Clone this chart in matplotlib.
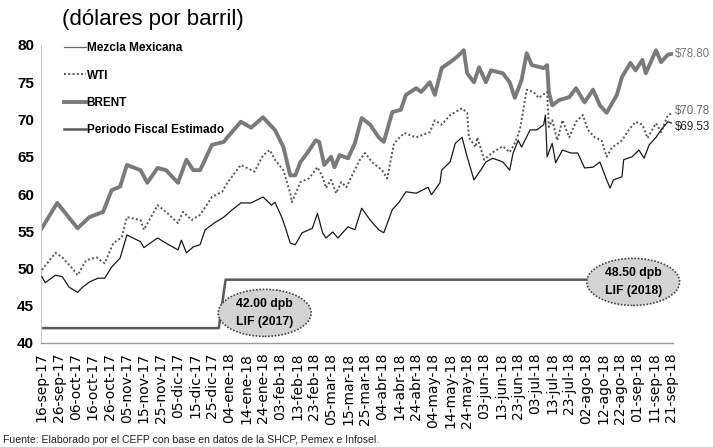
import matplotlib
matplotlib.use("Agg")
import matplotlib.pyplot as plt
from matplotlib.patches import Ellipse
import pandas as pd

# ---------------- data ----------------
brent_dates = ["2017-09-16","2017-09-25","2017-10-07","2017-10-14","2017-10-22","2017-10-27","2017-11-01","2017-11-05",
    "2017-11-13","2017-11-17","2017-11-23","2017-11-28","2017-12-05","2017-12-10","2017-12-14","2017-12-18","2017-12-25",
    "2018-01-01","2018-01-03","2018-01-11","2018-01-17","2018-01-24","2018-01-31","2018-02-05","2018-02-09","2018-02-12",
    "2018-02-15","2018-02-19","2018-02-24","2018-02-26","2018-03-01","2018-03-05","2018-03-07","2018-03-10","2018-03-15",
    "2018-03-19","2018-03-23","2018-03-28","2018-04-02","2018-04-05","2018-04-10","2018-04-15","2018-04-18","2018-04-24",
    "2018-04-27","2018-05-02","2018-05-05","2018-05-09","2018-05-14","2018-05-18","2018-05-22","2018-05-24","2018-05-28",
    "2018-05-31","2018-06-04","2018-06-07","2018-06-14","2018-06-18","2018-06-21","2018-06-25","2018-06-28","2018-07-01",
    "2018-07-08","2018-07-10","2018-07-11","2018-07-13","2018-07-17","2018-07-23","2018-07-27","2018-08-01","2018-08-06",
    "2018-08-10","2018-08-14","2018-08-20","2018-08-23","2018-08-28","2018-08-31","2018-09-04","2018-09-06","2018-09-12",
    "2018-09-15","2018-09-19","2018-09-21"]
brent_values = [55.4,58.8,55.4,56.9,57.6,60.5,61.0,63.9,63.2,61.5,63.5,63.2,61.5,64.6,63.2,63.2,66.6,
    67.0,67.6,69.7,68.9,70.3,68.6,66.3,62.5,62.5,64.3,65.5,67.2,67.0,63.9,65.0,63.6,65.2,64.8,
    66.8,70.2,69.3,67.6,67.0,71.0,71.3,73.3,74.2,73.7,75.0,73.3,76.9,77.7,78.4,79.3,76.2,75.0,
    77.0,75.0,76.6,76.2,75.0,72.9,75.3,78.9,77.3,76.9,77.3,73.7,71.9,72.6,73.0,74.2,72.3,74.0,
    71.9,70.9,73.3,75.7,77.6,76.6,78.0,76.2,79.3,77.7,78.7,78.8]

wti_dates = ["2017-09-16","2017-09-24","2017-09-28","2017-10-04","2017-10-07","2017-10-12","2017-10-18","2017-10-23",
    "2017-10-28","2017-11-02","2017-11-05","2017-11-13","2017-11-15","2017-11-23","2017-11-28","2017-12-05","2017-12-08",
    "2017-12-13","2017-12-18","2017-12-25","2017-12-31","2018-01-03","2018-01-11","2018-01-19","2018-01-24","2018-01-28",
    "2018-01-31","2018-02-05","2018-02-09","2018-02-10","2018-02-15","2018-02-20","2018-02-25","2018-02-28","2018-03-02",
    "2018-03-05","2018-03-08","2018-03-11","2018-03-14","2018-03-18","2018-03-22","2018-03-25","2018-03-29","2018-04-04",
    "2018-04-07","2018-04-11","2018-04-17","2018-04-24","2018-05-02","2018-05-05","2018-05-09","2018-05-14","2018-05-21",
    "2018-05-24","2018-05-25","2018-05-29","2018-05-30","2018-06-03","2018-06-08","2018-06-14","2018-06-18","2018-06-21",
    "2018-06-24","2018-06-28","2018-07-02","2018-07-05","2018-07-10","2018-07-11","2018-07-13","2018-07-16","2018-07-19",
    "2018-07-23","2018-07-27","2018-07-31","2018-08-03","2018-08-07","2018-08-11","2018-08-14","2018-08-17","2018-08-23",
    "2018-08-27","2018-08-31","2018-09-04","2018-09-07","2018-09-12","2018-09-15","2018-09-19","2018-09-21"]
wti_values = [49.8,52.1,51.5,50.0,49.1,51.1,51.5,50.7,53.4,54.2,56.9,56.5,55.2,58.5,57.6,56.1,57.6,
    56.5,57.2,59.6,60.3,61.5,63.9,63.0,65.2,65.9,64.6,63.2,60.1,58.9,61.6,62.1,63.6,62.3,60.8,
    61.9,60.1,61.6,60.9,62.8,64.6,65.5,64.3,63.2,62.1,66.8,68.2,67.6,68.3,69.9,69.3,70.6,71.5,
    70.9,67.6,66.3,67.6,64.6,65.6,66.4,65.6,66.8,68.6,74.0,73.7,72.9,73.7,69.0,69.9,67.2,69.9,
    67.6,69.7,70.6,68.6,67.6,67.2,65.0,66.2,67.2,68.6,69.7,69.3,67.5,69.5,68.3,70.6,70.78]

mezcla_dates = ["2017-09-16","2017-09-18","2017-09-24","2017-09-28","2017-10-02","2017-10-07","2017-10-10","2017-10-14",
    "2017-10-19","2017-10-23","2017-10-27","2017-11-01","2017-11-05","2017-11-13","2017-11-15","2017-11-23","2017-11-28",
    "2017-12-05","2017-12-07","2017-12-10","2017-12-14","2017-12-18","2017-12-21","2017-12-27","2018-01-01","2018-01-06",
    "2018-01-11","2018-01-17","2018-01-24","2018-01-29","2018-01-31","2018-02-04","2018-02-06","2018-02-09","2018-02-12",
    "2018-02-16","2018-02-22","2018-02-25","2018-02-28","2018-03-02","2018-03-06","2018-03-09","2018-03-15","2018-03-19",
    "2018-03-23","2018-03-28","2018-04-02","2018-04-05","2018-04-10","2018-04-14","2018-04-18","2018-04-24","2018-05-01",
    "2018-05-03","2018-05-08","2018-05-09","2018-05-14","2018-05-17","2018-05-21","2018-05-24","2018-05-28","2018-06-01",
    "2018-06-04","2018-06-08","2018-06-14","2018-06-18","2018-06-20","2018-06-23","2018-06-25","2018-06-30","2018-07-04",
    "2018-07-08","2018-07-09","2018-07-10","2018-07-13","2018-07-15","2018-07-19","2018-07-24","2018-07-28","2018-08-01",
    "2018-08-06","2018-08-10","2018-08-14","2018-08-16","2018-08-18","2018-08-23","2018-08-24","2018-08-29","2018-09-02",
    "2018-09-05","2018-09-08","2018-09-12","2018-09-15","2018-09-19","2018-09-21"]
mezcla_values = [48.9,48.1,49.1,48.9,47.5,46.8,47.5,48.2,48.7,48.7,50.2,51.4,54.5,53.6,52.8,54.1,53.4,
    52.5,53.8,52.1,52.9,53.2,55.2,56.2,56.9,57.9,58.8,58.8,59.6,58.5,58.9,56.9,55.6,53.4,53.2,
    54.8,55.4,57.4,54.8,54.1,54.9,54.1,55.6,55.2,58.1,56.5,55.2,54.8,57.9,58.9,60.3,60.1,60.9,
    59.9,61.5,63.2,64.3,66.8,67.6,65.0,61.9,63.2,64.3,64.8,64.3,63.2,65.5,67.2,66.3,68.6,68.6,
    69.3,70.6,65.0,66.8,64.2,65.9,65.5,65.5,63.5,63.6,64.3,61.9,60.8,61.9,62.3,64.6,65.0,65.9,
    64.8,66.6,67.6,68.6,69.7,69.53]

fiscal_dates = ["2017-09-16","2017-12-29","2018-01-02","2018-09-21"]
fiscal_values = [42.0, 42.0, 48.5, 48.5]

series_names = ["Mezcla Mexicana", "WTI", "BRENT", "Periodo Fiscal Estimado"]
end_labels = ["$78.80", "$70.78", "$69.53"]
box_labels = ["42.00 dpb\nLIF (2017)", "48.50 dpb\nLIF (2018)"]
title = "(dólares por barril)"
source = "Fuente: Elaborado por el CEFP con base en datos de la SHCP, Pemex e Infosel."
meses = ["ene","feb","mar","abr","may","jun","jul","ago","sep","oct","nov","dic"]
yticks = [40, 45, 50, 55, 60, 65, 70, 75, 80]

# ---------------- plot ----------------
SANS = ["Liberation Sans", "DejaVu Sans"]

fig = plt.figure(figsize=(7.13, 4.47), dpi=100)
ax = fig.add_axes([41/713, (447-343)/447, 632/713, 298/447])

bd = pd.to_datetime(brent_dates)
wd = pd.to_datetime(wti_dates)
md = pd.to_datetime(mezcla_dates)
fd = pd.to_datetime(fiscal_dates)

l_mez, = ax.plot(md, mezcla_values, color="#1a1a1a", lw=0.9, zorder=4)
l_wti, = ax.plot(wd, wti_values, color="#555555", lw=1.4, ls=(0, (1, 1.2)), zorder=3)
l_bre, = ax.plot(bd, brent_values, color="#7a7a7a", lw=2.8, zorder=2)
l_fis, = ax.plot(fd, fiscal_values, color="#5a5a5a", lw=1.8, zorder=2)

ax.set_ylim(40, 80)
ax.set_xlim(pd.Timestamp("2017-09-15 12:00"), pd.Timestamp("2018-09-22"))
ax.set_yticks(yticks)
ax.set_yticklabels([str(v) for v in yticks], fontfamily=SANS, fontweight="bold", fontsize=11)

ticks = pd.date_range("2017-09-16", "2018-09-21", freq="10D")
ax.set_xticks(ticks)
ax.set_xticklabels([f"{t.day:02d}-{meses[t.month-1]}-{t.strftime('%y')}" for t in ticks],
                   rotation=90, fontsize=10, fontfamily="DejaVu Sans")
ax.tick_params(axis="both", length=0, pad=5)
ax.tick_params(axis="x", pad=7)

for s in ["top", "right"]:
    ax.spines[s].set_visible(False)
ax.spines["left"].set_color("#cccccc")
ax.spines["left"].set_linewidth(0.8)
ax.spines["bottom"].set_color("#999999")
ax.spines["bottom"].set_linewidth(1.0)

leg = ax.legend([l_mez, l_wti, l_bre, l_fis], series_names, loc="upper left",
                bbox_to_anchor=(0.02, 1.045), frameon=False, handlelength=1.8, handletextpad=0.1,
                labelspacing=1.3, prop={"family": SANS, "weight": "bold", "size": 8.5})
leg.get_lines()[0].set_color("#666666")

# end-value labels
ax.text(1.003, (78.8-40)/40, end_labels[0], transform=ax.transAxes, color="#777777",
        fontsize=8.3, fontfamily=SANS, va="center", ha="left", clip_on=False)
ax.text(1.003, (71.1-40)/40, end_labels[1], transform=ax.transAxes, color="#666666",
        fontsize=8.3, fontfamily=SANS, va="center", ha="left", clip_on=False)
ax.text(1.003, (69.0-40)/40, end_labels[2], transform=ax.transAxes, color="#222222",
        fontsize=8.3, fontfamily=SANS, va="center", ha="left", clip_on=False)

# ellipse callouts
for (cx, cy), txt in zip([(0.354, 0.101), (0.937, 0.205)], box_labels):
    e = Ellipse((cx, cy), 0.147, 0.158, transform=ax.transAxes, facecolor="#d3d3d3",
                edgecolor="#444444", lw=1.2, ls=(0, (1, 1)), zorder=5, clip_on=False)
    ax.add_patch(e)
    ax.text(cx, cy, txt, transform=ax.transAxes, ha="center", va="center", fontsize=8.8,
            fontfamily=SANS, fontweight="bold", linespacing=1.6, zorder=6, clip_on=False)

fig.text(62/713, 1-19/447, title, fontsize=16, fontfamily=SANS, va="center", ha="left")
fig.text(3/713, 1-440/447, source, fontsize=7.6, fontfamily=SANS, va="center", ha="left",
         color="#222222")

fig.savefig("out.png", dpi=100)
